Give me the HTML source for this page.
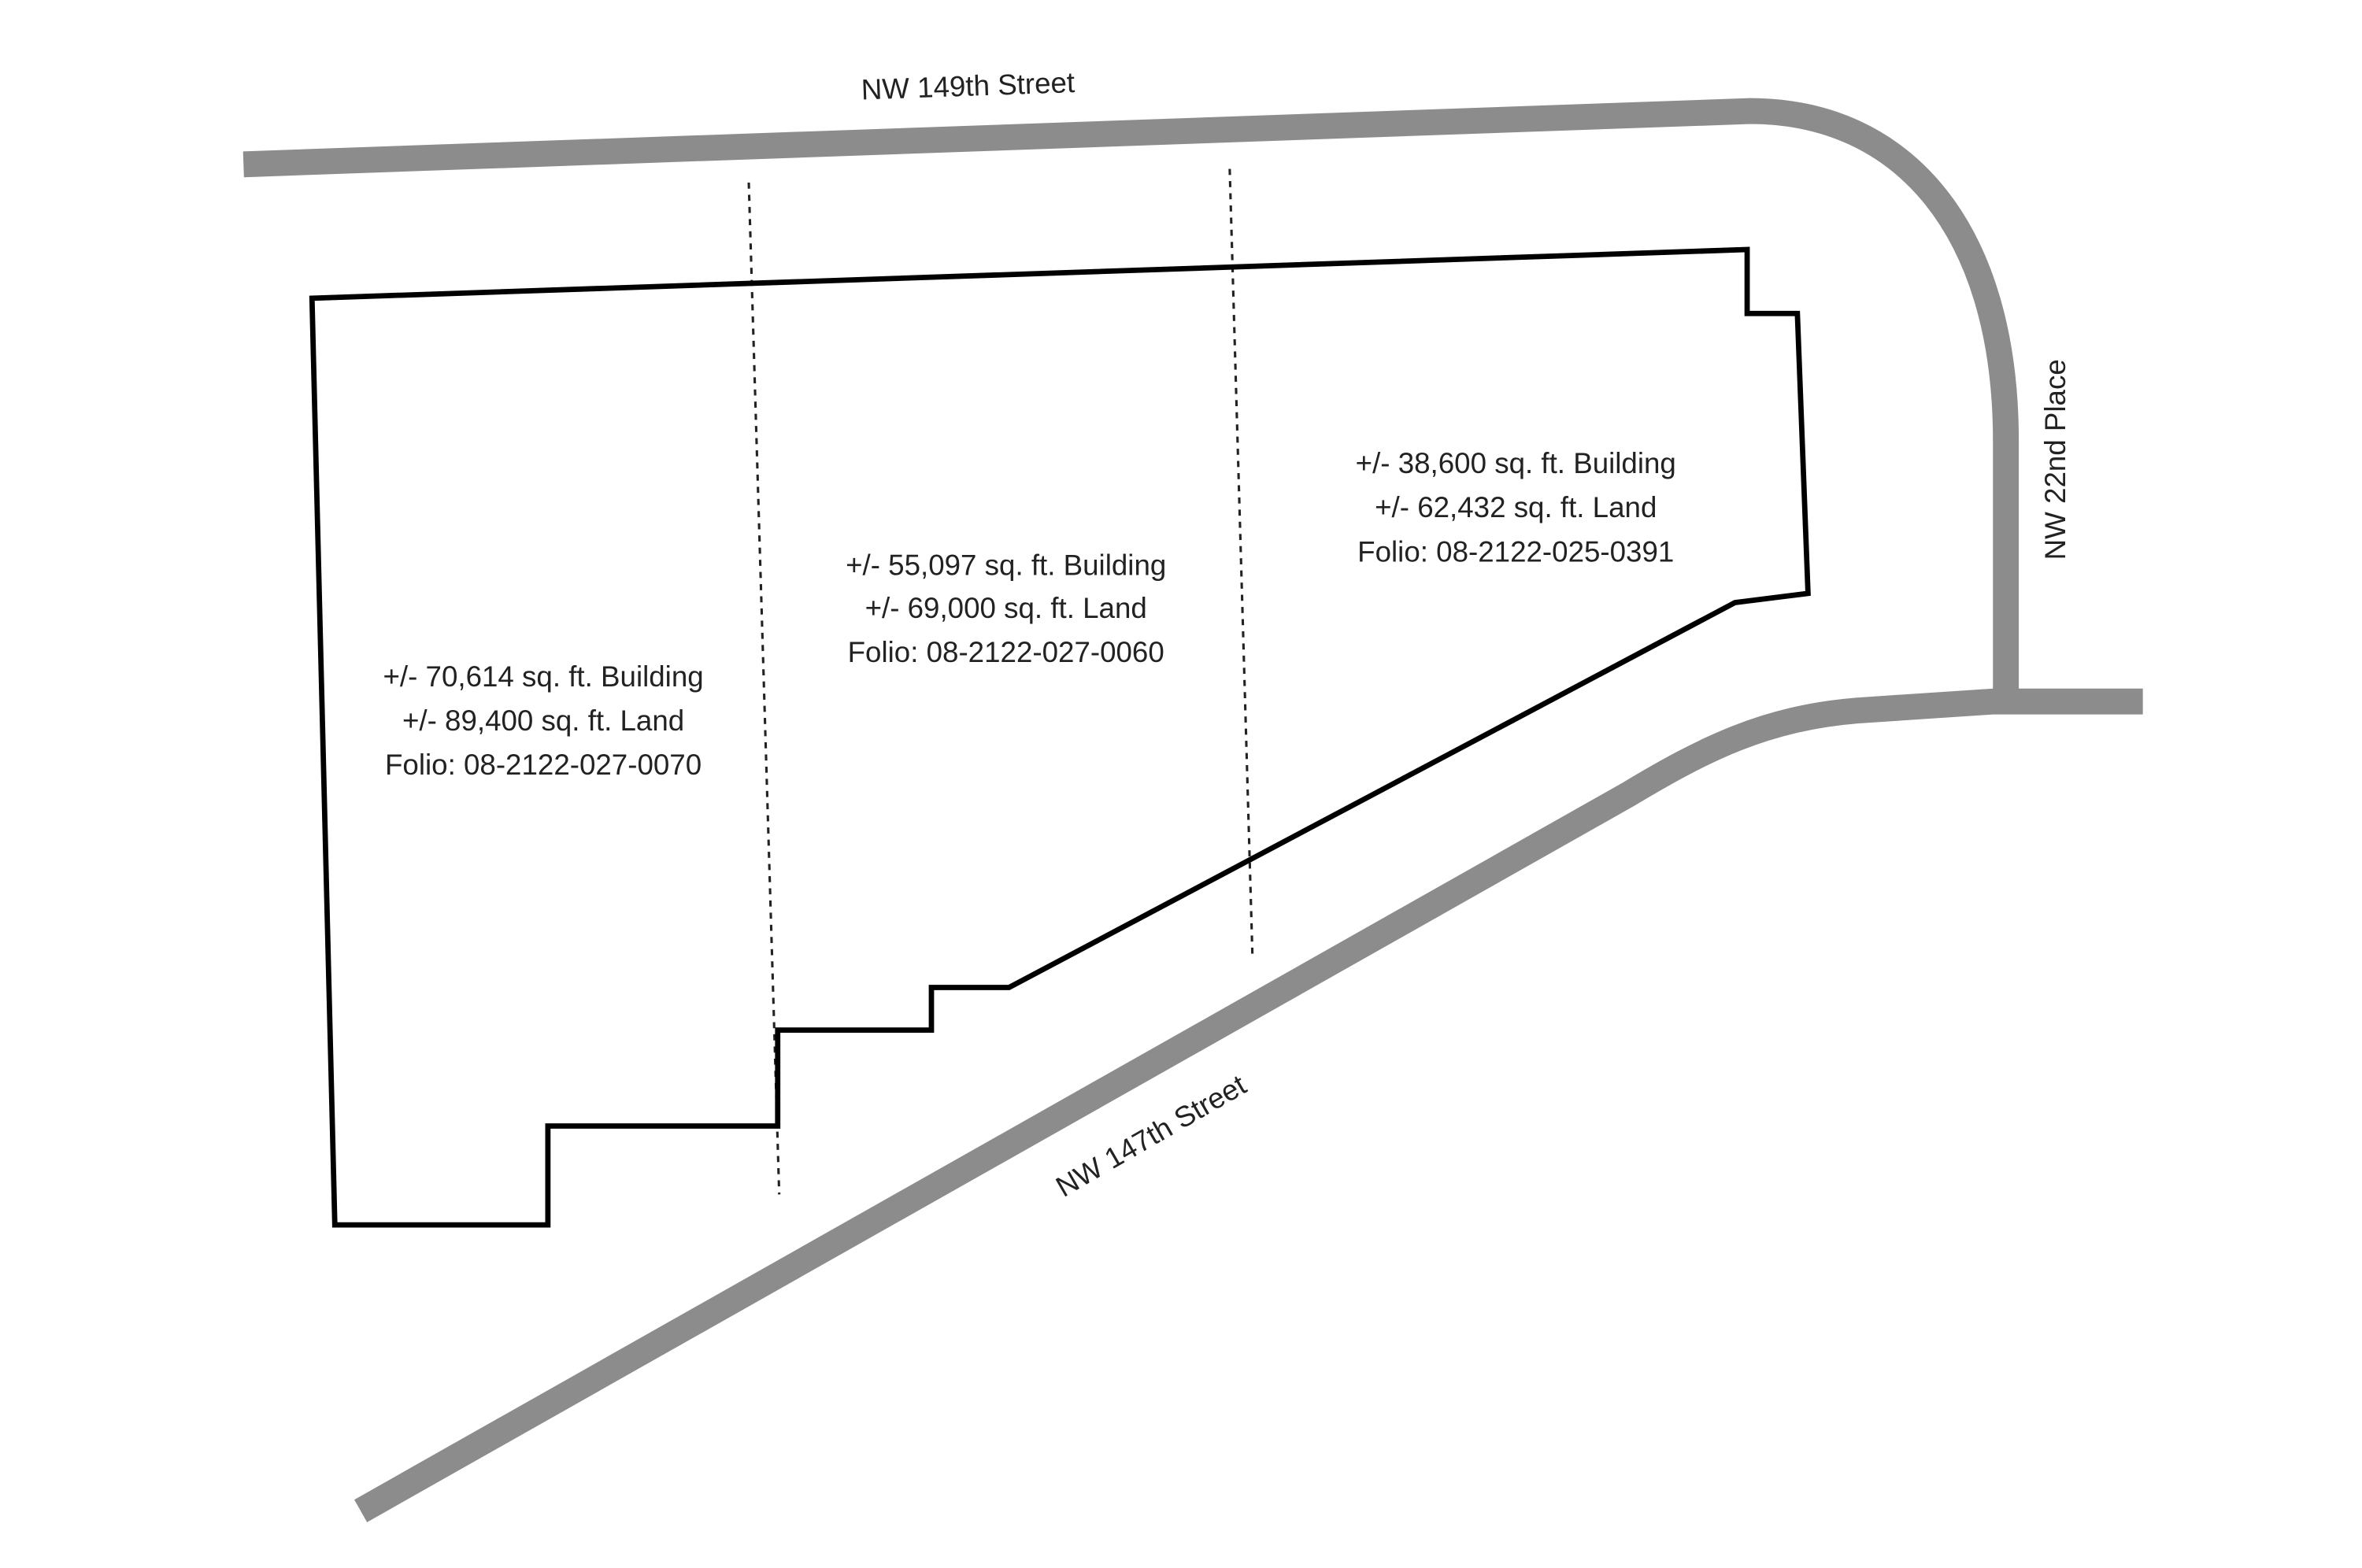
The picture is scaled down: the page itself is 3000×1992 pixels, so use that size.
<!DOCTYPE html>
<html><head><meta charset="utf-8"><style>
html,body{margin:0;padding:0;background:#fff;}
svg{display:block;}
text{font-family:"Liberation Sans",sans-serif;font-size:19px;fill:#222;}
</style></head><body>
<svg width="3000" height="1992" viewBox="0 0 1552 1030.5" preserveAspectRatio="none" xmlns="http://www.w3.org/2000/svg">
<rect width="1552" height="1030.5" fill="#fff"/>
<g fill="none" stroke="#8c8c8c" stroke-width="17">
<path d="M160,108 L1150,73 C1250,73 1318,150 1318,290 L1318,460"/>
<path d="M1408,461 L1310,461 L1220,467 C1160,472 1120,492 1070,522 L237,993"/>
</g>
<g fill="none" stroke="#222" stroke-width="1.6" stroke-dasharray="4,4">
<line x1="492" y1="120" x2="512" y2="785"/>
<line x1="808" y1="111" x2="823" y2="630"/>
</g>
<path d="M205,196 L1148,164 L1148,206 L1181,206 L1188,390 L1140,396 L663,649 L612,649 L612,677 L511,677 L511,740 L360,740 L360,805 L220,805 Z" fill="none" stroke="#000" stroke-width="3.5" stroke-linejoin="miter"/>
<g text-anchor="middle">
<text x="357" y="451">+/- 70,614 sq. ft. Building</text>
<text x="357" y="480">+/- 89,400 sq. ft. Land</text>
<text x="357" y="509">Folio: 08-2122-027-0070</text>
<text x="661" y="378">+/- 55,097 sq. ft. Building</text>
<text x="661" y="406">+/- 69,000 sq. ft. Land</text>
<text x="661" y="435">Folio: 08-2122-027-0060</text>
<text x="996" y="311">+/- 38,600 sq. ft. Building</text>
<text x="996" y="340">+/- 62,432 sq. ft. Land</text>
<text x="996" y="369">Folio: 08-2122-025-0391</text>
<text x="636" y="63" transform="rotate(-2 636 56)">NW 149th Street</text>
<text x="756" y="753" transform="rotate(-30 756 746)">NW 147th Street</text>
<text x="1350" y="309" transform="rotate(-90 1350 302)">NW 22nd Place</text>
</g>
</svg>
</body></html>
